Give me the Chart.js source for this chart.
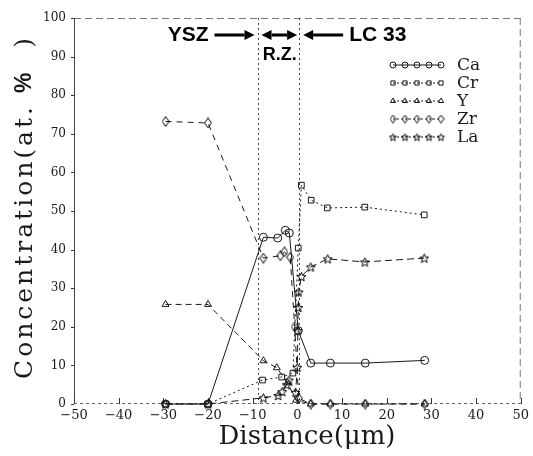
<!DOCTYPE html>
<html>
<head>
<meta charset="utf-8">
<script src="https://cdn.jsdelivr.net/npm/chart.js@4.4.1/dist/chart.umd.min.js"></script>
<style>
  html, body { margin: 0; padding: 0; background: #fff; }
  #wrap { width: 533px; height: 456px; }
</style>
</head>
<body>
<div id="wrap"><canvas id="chart" width="533" height="456"></canvas></div>
<script>
// 濃度プロファイル（YSZ / 反応層 / LC33）

const X_TICKS = [-50, -40, -30, -20, -10, 0, 10, 20, 30, 40, 50];
const X_TICK_LABELS = ["\u221250", "\u221240", "\u221230", "\u221220", "\u221210", "0", "10", "20", "30", "40", "50"];
const Y_TICKS = [0, 10, 20, 30, 40, 50, 60, 70, 80, 90, 100];

const SERIES = ["Ca", "Cr", "Y", "Zr", "La"];

const CA_X = [-29.5, -20, -7.6, -4.4, -2.7, -1.8, 0.2, 3.0, 7.4, 15.2, 28.5];
const CA_Y = [0, 0, 43.2, 43.0, 45.0, 44.3, 19.0, 10.6, 10.6, 10.6, 11.3];

const CR_X = [-29.5, -20, -7.8, -3.5, -1.0, 0.2, 0.9, 3.1, 6.7, 15.1, 28.4];
const CR_Y = [0, 0, 6.2, 7.0, 8.0, 40.4, 56.7, 52.8, 50.8, 51.0, 49.0];

const Y_X = [-29.5, -20, -7.6, -4.6, -2.2, -0.3, 3.0, 7.4, 15.2, 28.5];
const Y_Y = [25.8, 25.8, 11.2, 9.4, 5.5, 1.0, 0, 0, 0, 0];

const ZR_X = [-29.5, -20, -7.6, -3.8, -2.9, -1.6, -0.6, 0.3, 3.0, 7.4, 15.2, 28.5];
const ZR_Y = [73.2, 72.8, 37.8, 38.4, 39.4, 38.0, 20.0, 1.5, 0, 0, 0, 0];

const LA_X = [-29.5, -20, -7.6, -4.3, -3.4, -2.4, -1.9, -0.4, 0.0, 0.1, 0.2, 0.3, 0.9, 3.0, 6.8, 15.1, 28.4];
const LA_Y = [0, 0, 1.6, 2.2, 3.2, 5.0, 6.2, 3.0, 9.5, 19.0, 25.0, 29.0, 33.0, 35.5, 37.6, 36.8, 37.8];

// 反応層（R.Z.）の境界
const RZ_LEFT = -8.7;
const RZ_RIGHT = 0.4;

const INK = "#1a1a1a";
const SERIF = "'DejaVu Serif', serif";
const SANS = "'Liberation Sans', Arial, sans-serif";

function toPoints(xs, ys) {
  return xs.map((x, i) => ({ x: x, y: ys[i] }));
}

// 星・菱形マーカーは canvas で作る
function makeStar(size) {
  const c = document.createElement("canvas");
  c.width = size; c.height = size;
  const g = c.getContext("2d");
  const cx = size / 2, cy = size / 2 + 0.5;
  const ro = size / 2 - 0.8, ri = ro * 0.45;
  g.beginPath();
  for (let i = 0; i < 10; i++) {
    const r = i % 2 ? ri : ro;
    const a = -Math.PI / 2 + i * Math.PI / 5;
    const px = cx + r * Math.cos(a), py = cy + r * Math.sin(a);
    if (i === 0) g.moveTo(px, py); else g.lineTo(px, py);
  }
  g.closePath();
  g.strokeStyle = "#000";
  g.lineWidth = 1;
  g.stroke();
  return c;
}

function makeDiamond(w, h) {
  const c = document.createElement("canvas");
  c.width = w; c.height = h;
  const g = c.getContext("2d");
  g.beginPath();
  g.moveTo(w / 2, 0.6);
  g.lineTo(w - 0.6, h / 2);
  g.lineTo(w / 2, h - 0.6);
  g.lineTo(0.6, h / 2);
  g.closePath();
  g.strokeStyle = "#000";
  g.lineWidth = 1;
  g.stroke();
  return c;
}

const STAR = makeStar(11);
const DIAMOND = makeDiamond(8, 11);
const STAR_S = makeStar(9);
const DIAMOND_S = makeDiamond(7, 9);

const STYLES = {
  Ca: { dash: [], point: "circle", small: "circle" },
  Cr: { dash: [2, 3], point: "rect", small: "rect" },
  Y:  { dash: [6, 4], point: "triangle", small: "triangle" },
  Zr: { dash: [6, 5], point: DIAMOND, small: DIAMOND_S },
  La: { dash: [7, 4], point: STAR, small: STAR_S },
};

const SERIES_DATA = {
  Ca: toPoints(CA_X, CA_Y),
  Cr: toPoints(CR_X, CR_Y),
  Y:  toPoints(Y_X, Y_Y),
  Zr: toPoints(ZR_X, ZR_Y),
  La: toPoints(LA_X, LA_Y),
};

function makeDataset(name) {
  const st = STYLES[name];
  return {
    label: name,
    data: SERIES_DATA[name],
    showLine: true,
    borderColor: INK,
    borderWidth: 1,
    borderDash: st.dash,
    pointStyle: st.point,
    pointRadius: 4,
    pointBorderColor: INK,
    pointBackgroundColor: "rgba(0,0,0,0)",
    pointBorderWidth: 1,
    clip: false,
  };
}

function arrow(ctx, x1, x2, y, headStart, headEnd) {
  const hl = 10, hw = 5, th = 3;
  const a = headStart ? x1 + hl : x1;
  const b = headEnd ? x2 - hl : x2;
  ctx.fillStyle = "#000";
  ctx.fillRect(a, y - th / 2, b - a, th);
  if (headEnd) {
    ctx.beginPath();
    ctx.moveTo(x2, y); ctx.lineTo(x2 - hl, y - hw); ctx.lineTo(x2 - hl, y + hw);
    ctx.closePath(); ctx.fill();
  }
  if (headStart) {
    ctx.beginPath();
    ctx.moveTo(x1, y); ctx.lineTo(x1 + hl, y - hw); ctx.lineTo(x1 + hl, y + hw);
    ctx.closePath(); ctx.fill();
  }
}

const framePlugin = {
  id: "frame",
  beforeDraw(chart) {
    const ctx = chart.ctx;
    ctx.save();
    ctx.fillStyle = "#fff";
    ctx.fillRect(0, 0, chart.width, chart.height);
    ctx.restore();
  },
  beforeDatasetsDraw(chart) {
    const { ctx, chartArea: a, scales } = chart;
    const xs = scales.x, ys = scales.y;
    ctx.save();
    // 枠
    ctx.lineWidth = 1;
    ctx.strokeStyle = "#777";
    ctx.setLineDash([7, 4]);
    ctx.beginPath();
    ctx.moveTo(a.left, a.top + 0.5); ctx.lineTo(a.right, a.top + 0.5);
    ctx.moveTo(a.right - 0.5, a.top); ctx.lineTo(a.right - 0.5, a.bottom);
    ctx.stroke();
    ctx.setLineDash([]);
    ctx.strokeStyle = "#444";
    ctx.beginPath();
    ctx.moveTo(a.left + 0.5, a.top); ctx.lineTo(a.left + 0.5, a.bottom);
    ctx.stroke();
    ctx.strokeStyle = "#666";
    ctx.setLineDash([3, 3]);
    ctx.beginPath();
    ctx.moveTo(a.left, a.bottom - 0.5); ctx.lineTo(a.right, a.bottom - 0.5);
    ctx.stroke();
    ctx.setLineDash([]);
    // 目盛り
    ctx.strokeStyle = "#333";
    ctx.beginPath();
    X_TICKS.forEach(v => {
      const px = Math.round(xs.getPixelForValue(v)) + 0.5;
      ctx.moveTo(px, a.bottom); ctx.lineTo(px, a.bottom - 6);
    });
    Y_TICKS.forEach(v => {
      const py = Math.round(ys.getPixelForValue(v)) + 0.5;
      ctx.moveTo(a.left, py); ctx.lineTo(a.left - 3, py);
    });
    ctx.stroke();
    // R.Z. 境界線
    ctx.strokeStyle = "#444";
    ctx.setLineDash([2, 3]);
    ctx.beginPath();
    [RZ_LEFT, RZ_RIGHT].forEach(v => {
      const px = Math.round(xs.getPixelForValue(v)) + 0.5;
      ctx.moveTo(px, a.top); ctx.lineTo(px, a.bottom);
    });
    ctx.stroke();
    ctx.restore();
  },
  afterDatasetsDraw(chart) {
    const { ctx, scales } = chart;
    const xL = scales.x.getPixelForValue(RZ_LEFT);
    const xR = scales.x.getPixelForValue(RZ_RIGHT);
    ctx.save();
    // 領域ラベルと矢印
    const ay = 35;
    ctx.fillStyle = "#000";
    ctx.font = "bold 21px " + SANS;
    ctx.textBaseline = "middle";
    ctx.textAlign = "right";
    ctx.fillText("YSZ", xL - 50, ay);
    arrow(ctx, xL - 44, xL - 4, ay, false, true);
    arrow(ctx, xL + 3, xR - 2, ay, true, true);
    arrow(ctx, xR + 4, xR + 44, ay, true, false);
    ctx.textAlign = "left";
    ctx.fillText("LC 33", xR + 50, ay);
    ctx.font = "bold 18px " + SANS;
    ctx.textAlign = "center";
    ctx.fillText("R.Z.", (xL + xR) / 2 + 1, 55);

    // 凡例（記号 5 個＋線）
    const lx0 = 393, step = 12;
    chart.data.datasets.forEach((ds, i) => {
      const st = STYLES[ds.label];
      const y = 65 + i * 18;
      ctx.strokeStyle = INK;
      ctx.lineWidth = 1;
      ctx.setLineDash(st.dash.length ? [2, 2] : []);
      ctx.beginPath();
      ctx.moveTo(lx0, y); ctx.lineTo(lx0 + step * 4, y);
      ctx.stroke();
      ctx.setLineDash([]);
      ctx.fillStyle = "rgba(0,0,0,0)";
      ctx.strokeStyle = INK;
      for (let k = 0; k < 5; k++) {
        Chart.helpers.drawPoint(ctx, {
          pointStyle: st.small, radius: 3, rotation: 0, borderWidth: 1,
        }, lx0 + k * step, y);
      }
      ctx.fillStyle = INK;
      ctx.font = "17px " + SERIF;
      ctx.textAlign = "left";
      ctx.textBaseline = "middle";
      ctx.fillText(ds.label, lx0 + step * 4 + 16, y + 1);
    });

    // 軸タイトル
    ctx.fillStyle = INK;
    ctx.textBaseline = "middle";
    ctx.font = "26px " + SERIF;
    ctx.textAlign = "center";
    ctx.fillText("Distance(\u03bcm)", 307, 437);

    const p1 = "Concentration(at. ", p2 = "%", p3 = "  )";
    const f1 = "25px " + SERIF, f2 = "bold 23px " + SANS;
    ctx.letterSpacing = "3px";
    ctx.font = f1; const w1 = ctx.measureText(p1).width, w3 = ctx.measureText(p3).width;
    ctx.font = f2; const w2 = ctx.measureText(p2).width;
    const total = w1 + w2 + w3;
    ctx.translate(25, 207);
    ctx.rotate(-Math.PI / 2);
    ctx.textAlign = "left";
    let x = -total / 2;
    ctx.font = f1; ctx.fillText(p1, x, 0); x += w1;
    ctx.font = f2; ctx.fillText(p2, x, 0); x += w2;
    ctx.font = f1; ctx.fillText(p3, x, 0);
    ctx.restore();
  },
};

new Chart(document.getElementById("chart"), {
  type: "scatter",
  data: { datasets: SERIES.map(makeDataset) },
  options: {
    responsive: false,
    animation: false,
    devicePixelRatio: 1,
    layout: { padding: { left: 0, right: 9, top: 18, bottom: 0 } },
    plugins: { legend: { display: false }, tooltip: { enabled: false } },
    scales: {
      x: {
        type: "linear",
        min: -50, max: 50,
        afterBuildTicks: s => { s.ticks = X_TICKS.map(v => ({ value: v })); },
        afterFit: s => { s.height = 52; },
        grid: { display: false, drawTicks: false },
        border: { display: false },
        ticks: {
          padding: 4,
          color: INK,
          font: { family: SERIF, size: 13 },
          callback: (v) => X_TICK_LABELS[X_TICKS.indexOf(v)],
        },
      },
      y: {
        type: "linear",
        min: 0, max: 100,
        afterBuildTicks: s => { s.ticks = Y_TICKS.map(v => ({ value: v })); },
        afterFit: s => { s.width = 74; },
        grid: { display: false, drawTicks: false },
        border: { display: false },
        ticks: {
          padding: 8,
          color: INK,
          font: { family: SERIF, size: 12 },
        },
      },
    },
  },
  plugins: [framePlugin],
});
</script>
</body>
</html>
